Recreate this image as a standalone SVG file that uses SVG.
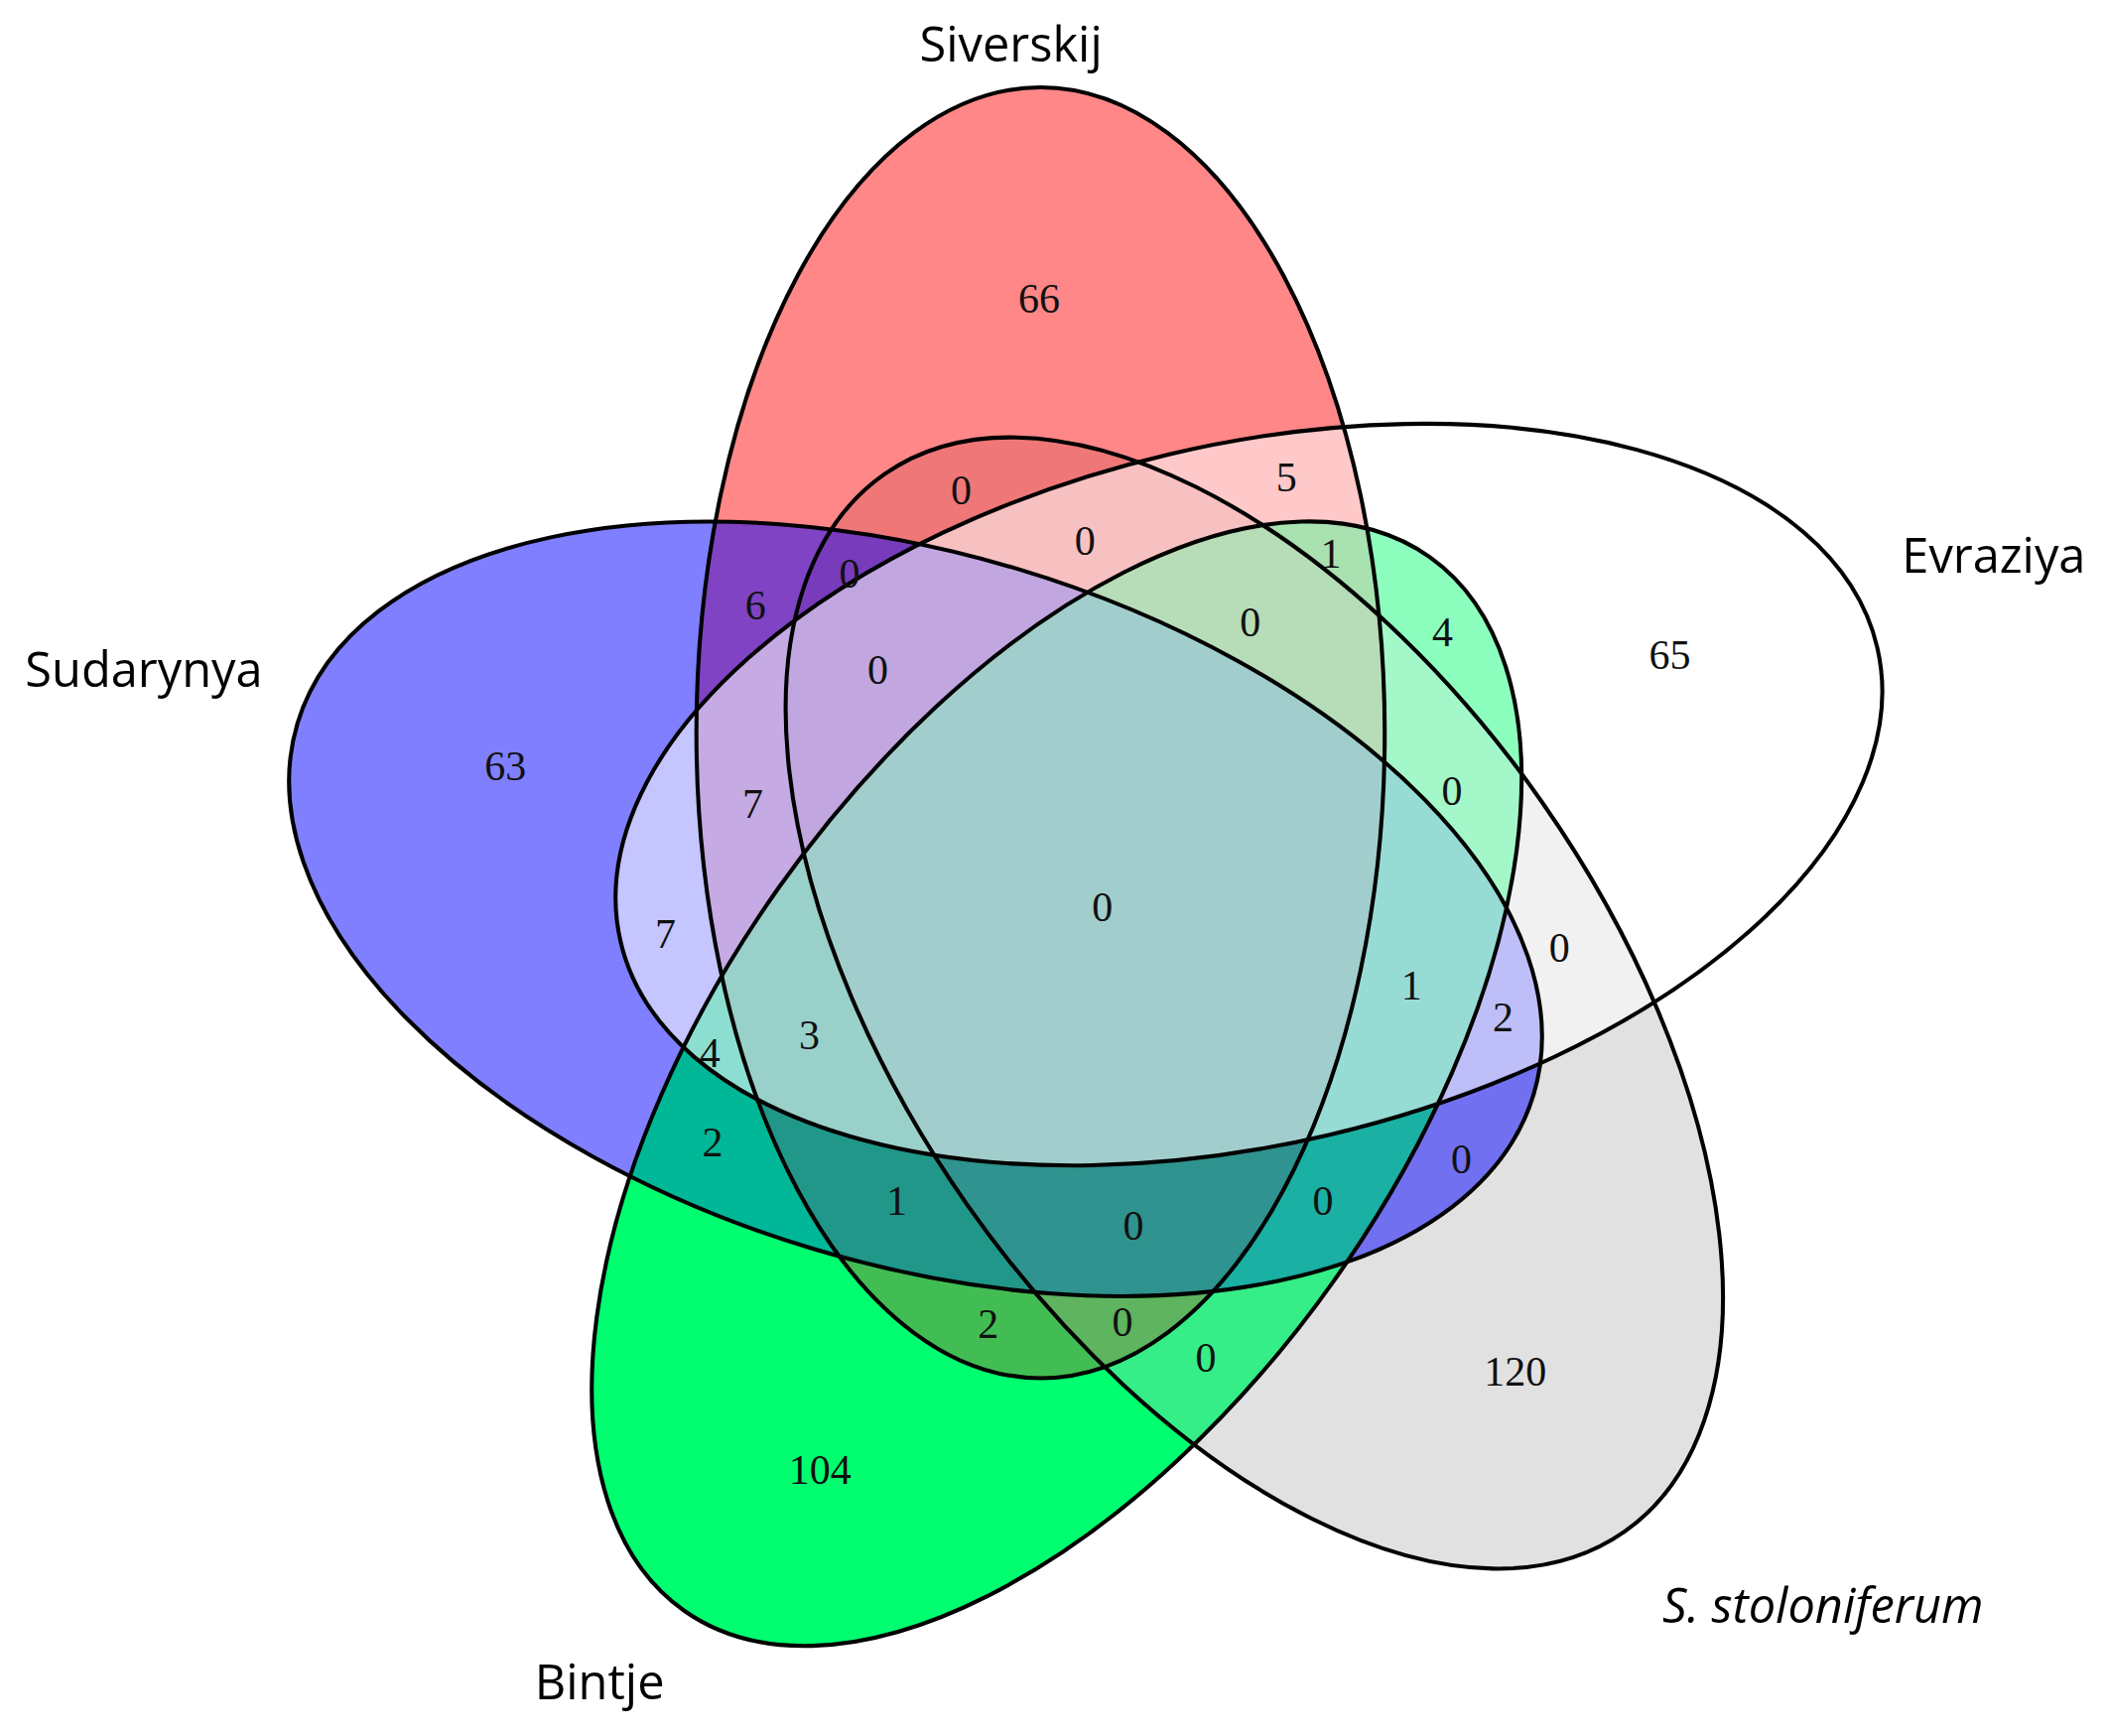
<svg xmlns="http://www.w3.org/2000/svg" width="2124" height="1749" viewBox="0 0 2124 1749">
<style>
.e{stroke:#000;stroke-width:3}
.n{font-family:"Liberation Serif",serif;font-size:31px;text-anchor:middle;dominant-baseline:central;fill:#111}
.l{font-family:"Open Sans","Liberation Sans",sans-serif;font-size:36px;text-anchor:middle;dominant-baseline:central;fill:#000}
</style>
<rect width="2124" height="1749" fill="#fff"/>
<g transform="scale(1.3546)">
<g id="fills">
<ellipse cx="786" cy="806" rx="480" ry="253" transform="rotate(-54.7 786 806)" fill="#00ff70"/>
<ellipse cx="933" cy="746" rx="480" ry="261" transform="rotate(55 933 746)" fill="#c4c4c4" fill-opacity="0.5"/>
<ellipse cx="774" cy="545" rx="256" ry="480" fill="#ff0000" fill-opacity="0.47"/>
<ellipse cx="681" cy="676" rx="480" ry="264" transform="rotate(16.7 681 676)" fill="#0000ff" fill-opacity="0.5"/>
<ellipse cx="786" cy="806" rx="480" ry="253" transform="rotate(-54.7 786 806)" fill="#00ff70" fill-opacity="0.45"/>
<ellipse cx="929" cy="591" rx="480" ry="260" transform="rotate(-13.2 929 591)" fill="#ffffff" fill-opacity="0.55"/>
</g>
<g id="Siverskij"><ellipse class="e" cx="774" cy="545" rx="256" ry="480" fill="none"/><text class="l" x="752" y="32">Siverskij</text></g>
<g id="Evraziya"><ellipse class="e" cx="929" cy="591" rx="480" ry="260" transform="rotate(-13.2 929 591)" fill="none"/><text class="l" x="1483" y="412">Evraziya</text></g>
<g id="Sudarynya"><ellipse class="e" cx="681" cy="676" rx="480" ry="264" transform="rotate(16.7 681 676)" fill="none"/><text class="l" x="107" y="497">Sudarynya</text></g>
<g id="Bintje"><ellipse class="e" cx="786" cy="806" rx="480" ry="253" transform="rotate(-54.7 786 806)" fill="none"/><text class="l" x="446" y="1250">Bintje</text></g>
<g id="Sstoloniferum"><ellipse class="e" cx="933" cy="746" rx="480" ry="261" transform="rotate(55 933 746)" fill="none"/><text class="l" x="1356" y="1193" font-style="italic">S. stoloniferum</text></g>
<g id="counts">
<text class="n" x="773" y="222">66</text><text class="n" x="715" y="365">0</text><text class="n" x="957" y="355">5</text>
<text class="n" x="807" y="402">0</text><text class="n" x="632" y="427">0</text><text class="n" x="990" y="412">1</text>
<text class="n" x="562" y="450">6</text><text class="n" x="930" y="463">0</text><text class="n" x="1073" y="470">4</text>
<text class="n" x="653" y="498">0</text><text class="n" x="1242" y="487">65</text><text class="n" x="376" y="570">63</text>
<text class="n" x="560" y="598">7</text><text class="n" x="1080" y="588">0</text><text class="n" x="820" y="675">0</text>
<text class="n" x="495" y="695">7</text><text class="n" x="1160" y="705">0</text><text class="n" x="1050" y="733">1</text>
<text class="n" x="1118" y="757">2</text><text class="n" x="602" y="770">3</text><text class="n" x="528" y="783">4</text>
<text class="n" x="530" y="850">2</text><text class="n" x="1087" y="862">0</text><text class="n" x="667" y="893">1</text>
<text class="n" x="843" y="912">0</text><text class="n" x="984" y="893">0</text><text class="n" x="735" y="985">2</text>
<text class="n" x="835" y="983">0</text><text class="n" x="897" y="1010">0</text><text class="n" x="1127" y="1020">120</text>
<text class="n" x="610" y="1093">104</text>
</g>
</g>
</svg>
